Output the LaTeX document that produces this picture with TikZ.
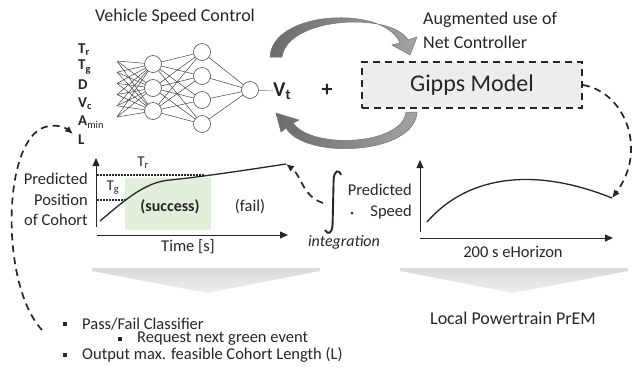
\documentclass[tikz,border=0pt]{standalone}
\usepackage{fontspec}
\setmainfont{Carlito}
\usetikzlibrary{arrows.meta,shapes.geometric}
\newcommand{\myfs}[1]{\fontsize{#1bp}{#1bp}\selectfont}
\definecolor{txt}{HTML}{262626}
\definecolor{greenbg}{HTML}{E2EFDA}
\definecolor{boxbg}{HTML}{EDEDED}
\begin{document}
\begin{tikzpicture}[x=1bp,y=-1bp,
  every node/.style={text=txt, inner sep=0pt},
  lbl/.style={font=\myfs{18}},
  blbl/.style={font=\myfs{16.5}},
  chl/.style={font=\myfs{16.5}},
  inp/.style={font=\myfs{15}\bfseries, anchor=west},
  neuron/.style={circle, draw=black!70, fill=white, minimum size=17bp, line width=0.6bp},
  syn/.style={draw=black!75, line width=0.5bp},
  dasharrow/.style={draw=txt, dash pattern=on 7bp off 5bp, line width=1.7bp, -{Latex[length=8bp,width=7bp]}},
  axis/.style={draw=txt, line width=0.8bp, -{Triangle[length=8bp,width=7bp]}},
  crv/.style={draw=txt, line width=1.3bp},
  dots/.style={draw=txt, dash pattern=on 1.5bp off 1.5bp, line width=1.5bp},
  chevron/.style={top color=black!15, bottom color=black!6, draw=none},
  grayarrow/.style={left color=black!58, right color=black!36, draw=black!55, line width=0.5bp},
  bul/.style={fill=txt, minimum size=4.5bp}
]
\useasboundingbox (0,0) rectangle (643,371);

% ---------- title texts
\node[lbl] (title) at (175,17) {Vehicle Speed Control};
\node[lbl, anchor=west] (aug1) at (423,20) {Augmented use of};
\node[lbl, anchor=west] (aug2) at (423,42) {Net Controller};

% ---------- input labels
\node[inp] (tr) at (78,50) {T\textsubscript{r}};
\node[inp] (tg) at (78,67) {T\textsubscript{g}};
\node[inp] (dd) at (78,85) {D};
\node[inp] (vc) at (78,104) {V\textsubscript{c}};
\node[inp] (am) at (78,122) {A\textsubscript{\mdseries min}};
\node[inp] (ll) at (78,140) {L};

% ---------- neural net
\foreach \k/\y in {1/61,2/72.2,3/83.4,4/94.6,5/105.8,6/117}
  \coordinate (i\k) at (117,\y);
\coordinate (hp1) at (153,64);
\coordinate (hp2) at (153,88);
\coordinate (hp3) at (153,111);
\coordinate (gp1) at (202,52);
\coordinate (gp2) at (202,76);
\coordinate (gp3) at (202,100);
\coordinate (gp4) at (202,124);
\foreach \a in {1,...,6}
  \foreach \b in {1,2,3}
    \draw[syn] (i\a) -- (hp\b);
\foreach \a in {1,2,3}
  \foreach \b in {1,2,3,4}
    \draw[syn] (hp\a) -- (gp\b);
\foreach \b in {1,2,3,4}
  \draw[syn] (gp\b) -- (250,90);
\foreach \a in {1,2,3} \node[neuron] (h\a) at (hp\a) {};
\foreach \b in {1,2,3,4} \node[neuron] (g\b) at (gp\b) {};
\node[neuron] (o) at (250,90) {};

\node[font=\myfs{21}\bfseries, anchor=west] (vt) at (273,91) {V\textsubscript{t}};
\draw[syn, draw=black!55] (o) -- (vt.west);
\node[font=\myfs{22}\bfseries] (plus) at (327,90) {+};

% ---------- Gipps box
\node[draw=txt, fill=boxbg, dash pattern=on 7bp off 5bp, line width=1.7bp,
      minimum width=220bp, minimum height=46bp, font=\myfs{24}] (gipps) at (472,85) {Gipps Model};

% ---------- gray curved arrows
\path[grayarrow] (270,57) .. controls (272,10) and (385,5) .. (400,43)
   -- (392,45) -- (410,55) -- (417,37) -- (408,40)
   .. controls (392,12) and (288,16) .. (282,57) -- cycle;
\path[grayarrow] (417,112) .. controls (415,155) and (305,160) .. (286,128)
   -- (281,132) -- (276,113) -- (299,120) -- (293,123)
   .. controls (312,150) and (403,145) .. (406,112) -- cycle;

% ---------- left chart
\fill[greenbg] (125,178) rectangle (211,230);
\coordinate (ly0) at (96,227);
\coordinate (ly1) at (96,158);
\coordinate (lx0) at (97,235);
\coordinate (lx1) at (288,235);
\draw[axis] (ly0) -- (ly1);
\draw[axis] (lx0) -- (lx1);
\draw[dots] (97,175) -- (205,175);
\draw[dots] (97,200) -- (126,200);
\coordinate (lstart) at (100,221);
\coordinate (lend) at (286,164);
\draw[crv] (lstart) .. controls (125,200) and (145,182) .. (170,180)
   .. controls (200,177) and (240,171) .. (lend);
\node[font=\myfs{15}] (trl) at (143,163) {T\textsubscript{r}};
\node[font=\myfs{15}] (tgl) at (113,188) {T\textsubscript{g}};
\node[chl, anchor=east] (ppos1) at (88,179) {Predicted};
\node[chl, anchor=east] (ppos2) at (88,200) {Position};
\node[chl, anchor=east] (ppos3) at (88,220) {of Cohort};
\node[font=\myfs{16}\bfseries] (succ) at (170,207) {(success)};
\node[chl] (fail) at (250,207) {(fail)};
\node[chl] (time) at (188,247) {Time [s]};

% ---------- integration
\draw[draw=txt, line width=1.9bp] (341,175) .. controls (339,169) and (334,170) .. (333.6,180)
   -- (332.6,224) .. controls (332.2,234) and (328,235) .. (325,230);
\node[chl, anchor=east] (ps1) at (412,190) {Predicted};
\node[chl, anchor=east] (ps2) at (412,212) {Speed};
\node[circle, fill=txt, minimum size=3bp] (psdot) at (352,213) {};
\node[font=\myfs{16}\itshape] (integ) at (344,242) {integration};
\coordinate (intl) at (323,203);
\draw[dasharrow] (intl) .. controls (302,196) and (302,176) .. (lend);

% ---------- right chart
\coordinate (ry0) at (420,232);
\coordinate (ry1) at (420,160);
\coordinate (rx0) at (420,238);
\coordinate (rx1) at (613,238);
\draw[axis] (ry0) -- (ry1);
\draw[axis] (rx0) -- (rx1);
\coordinate (rstart) at (427,222);
\coordinate (rend) at (612,198);
\draw[crv] (rstart) .. controls (465,178) and (530,165) .. (rend);
\node[chl] (ehor) at (513,252) {200 s eHorizon};
\draw[dasharrow] (gipps.east) .. controls (625,92) and (648,150) .. (rend);

% ---------- chevrons
\path[chevron] (92,268) -- (320,268) -- (320,271) -- (207,293) -- (92,271) -- cycle;
\path[chevron] (400,268) -- (628,268) -- (628,271) -- (513,293) -- (400,271) -- cycle;

% ---------- bottom texts
\node[bul] (b1) at (65,324) {};
\node[blbl, anchor=west] (t1) at (82,324) {Pass/Fail Classifier};
\node[bul] (b2) at (120,339) {};
\node[blbl, anchor=west] (t2) at (137,339) {Request next green event};
\node[bul] (b3) at (65,355) {};
\node[blbl, anchor=west] (t3) at (82,355) {Output max. feasible Cohort Length (L)};
\node[lbl] (prem) at (513,318) {Local Powertrain PrEM};

% ---------- left dashed feedback arrow
\coordinate (fbs) at (42,330);
\coordinate (fbe) at (73,134);
\draw[dasharrow] (fbs) .. controls (0,285) and (2,140) .. (45,127)
   .. controls (56,124) and (65,127) .. (fbe);
\end{tikzpicture}
\end{document}
